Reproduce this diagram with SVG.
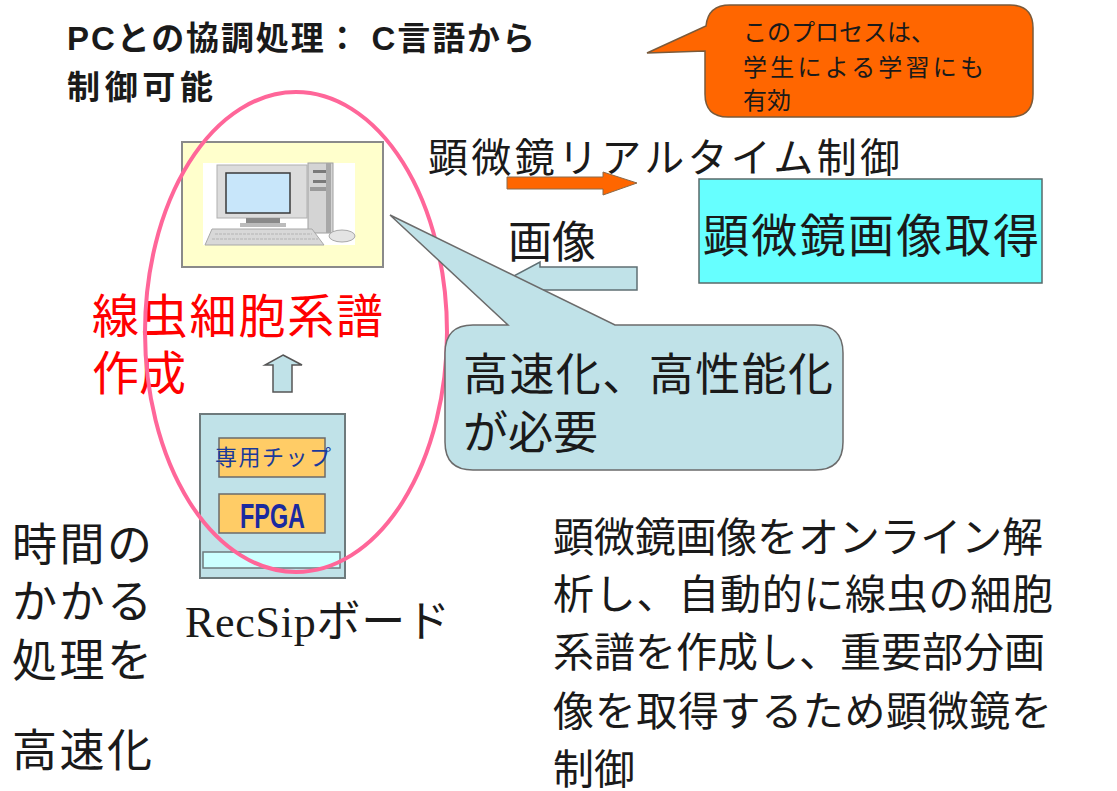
<svg xmlns="http://www.w3.org/2000/svg" width="1117" height="791" viewBox="0 0 1117 791">
  <style>
    .jp { font-family: "Noto Sans CJK JP", "Noto Sans", sans-serif; fill: #1a1a1a; }
    .title { font-family: "Liberation Sans", "Noto Sans CJK JP", sans-serif; font-weight: bold; fill: #1a1a1a; font-size: 33px; }
    .red { fill: #ff0000; }
    .bluefill { fill: #c0e2e8; }
    .orangefill { fill: #ff6600; }
    .chip { fill: #ffcc66; stroke: #6b6b6b; stroke-width: 1.5; }
  </style>

  <rect width="1117" height="791" fill="#ffffff"/>

  <!-- heading -->
  <g id="heading">
    <text class="title">
      <tspan x="67" y="50" textLength="468">PCとの協調処理： C言語から</tspan>
      <tspan x="67" y="99" textLength="146">制御可能</tspan>
    </text>
  </g>

  <!-- orange note bubble -->
  <g id="note">
    <path class="orangefill" stroke="#7a5a3a" stroke-width="1.5" d="M647,53 L706,26 Q708,5 730,5 L1010,5 Q1033,5 1033,28 L1033,94 Q1033,117 1010,117 L728,117 Q705,117 705,94 L705,51 Z"/>
    <text class="jp" font-size="24" fill="#2a1a0a">
      <tspan x="743" y="41">このプロセスは、</tspan>
      <tspan x="743" y="76" textLength="241">学生による学習にも</tspan>
      <tspan x="743" y="109">有効</tspan>
    </text>
  </g>

  <!-- connectors -->
  <g id="connectors">
    <!-- realtime control arrow (to microscope) -->
    <path class="orangefill" stroke="#8a6a4a" stroke-width="1" d="M507,177 L603,177 L603,172 L637,183 L603,195 L603,189 L507,189 Z"/>
    <!-- image return arrow (from microscope) -->
    <path class="bluefill" stroke="#5f6f73" stroke-width="1.5" d="M637,267 L540,267 L540,262 L508,279 L540,296 L540,290 L637,290 Z"/>
    <!-- board to PC arrow -->
    <path class="bluefill" stroke="#555" stroke-width="1.5" d="M283,355 L302,365 L292,365 L292,392 L273,392 L273,365 L265,365 Z"/>
  </g>

  <!-- labels on the connectors -->
  <g id="label-realtime">
    <text class="jp" font-size="40" x="428" y="172" textLength="472">顕微鏡リアルタイム制御</text>
  </g>
  <g id="label-image">
    <text class="jp" font-size="44" x="508" y="258">画像</text>
  </g>

  <!-- microscope image acquisition -->
  <g id="microscope">
    <rect x="699" y="179" width="343" height="104" fill="#66ffff" stroke="#5a6a6a" stroke-width="1.5"/>
    <text class="jp" font-size="46" x="703" y="252" textLength="336">顕微鏡画像取得</text>
  </g>

  <!-- PC -->
  <g id="pc">
    <rect x="182" y="142" width="201" height="125" fill="#ffffcc" stroke="#8a8a8a" stroke-width="2"/>
    <rect x="203" y="163" width="152" height="82" fill="#ffffff"/>
    <!-- monitor -->
    <rect x="217" y="165" width="90" height="53" fill="#dcdcdc" stroke="#b0b0b0" stroke-width="1"/>
    <rect x="226" y="173" width="64" height="40" fill="#c8e6fa" stroke="#3a3a3a" stroke-width="1.5"/>
    <rect x="246" y="218" width="34" height="6" fill="#8a8a8a"/>
    <rect x="240" y="223" width="46" height="4" fill="#bcbcbc"/>
    <!-- tower -->
    <rect x="308" y="163" width="25" height="70" fill="#d4d4d4" stroke="#a0a0a0" stroke-width="1"/>
    <rect x="313" y="170" width="14" height="3" fill="#7a7a7a"/>
    <rect x="313" y="180" width="14" height="3" fill="#7a7a7a"/>
    <rect x="310" y="187" width="20" height="4" fill="#9a9a9a"/>
    <rect x="326" y="163" width="5" height="70" fill="#a8a8a8"/>
    <!-- keyboard -->
    <path d="M212,229 L312,229 L324,245 L205,245 Z" fill="#d8d8d8" stroke="#a8a8a8" stroke-width="1"/>
    <path d="M215,234 L312,234 M212,239 L318,239" stroke="#b4b4b4" stroke-width="1" stroke-dasharray="3 1"/>
    <!-- mouse -->
    <ellipse cx="342" cy="236" rx="13" ry="6" fill="#e4e4e4" stroke="#a8a8a8" stroke-width="1"/>
  </g>

  <!-- lineage label -->
  <g id="lineage">
    <text class="jp red" font-size="47">
      <tspan x="92" y="333" textLength="291">線虫細胞系譜</tspan>
      <tspan x="92" y="390">作成</tspan>
    </text>
  </g>

  <!-- RecSip board -->
  <g id="board">
    <rect x="200" y="414" width="145" height="164" class="bluefill" stroke="#6e7a7c" stroke-width="2"/>
    <rect x="219" y="438" width="106" height="39" class="chip"/>
    <text x="215" y="465" font-family="'Liberation Serif', 'Noto Sans CJK JP', serif" font-size="22" fill="#1a3a9a" textLength="116">専用チップ</text>
    <rect x="219" y="494" width="106" height="39" class="chip"/>
    <text x="240" y="528" font-family="'Liberation Sans', sans-serif" font-weight="bold" font-size="35" fill="#1a2aa0" textLength="65" lengthAdjust="spacingAndGlyphs">FPGA</text>
    <rect x="203" y="552" width="137" height="16" fill="#ccffff" stroke="#6e7a7c" stroke-width="1.5"/>
    <text x="185" y="637" font-family="'Liberation Serif', 'Noto Sans CJK JP', serif" font-size="44" fill="#1a1a1a" textLength="265">RecSipボード</text>
  </g>

  <!-- grouping ellipse -->
  <g id="hw-loop">
    <ellipse cx="296" cy="332" rx="151" ry="240" fill="none" stroke="#ff6699" stroke-width="4"/>
  </g>

  <!-- speed-up callout -->
  <g id="callout">
    <path class="bluefill" stroke="#6b6b6b" stroke-width="1.5" d="M473,325 L508,325 L390,215 L615,325 L815,325 Q843,325 843,353 L843,442 Q843,470 815,470 L473,470 Q445,470 445,442 L445,353 Q445,325 473,325 Z"/>
    <text class="jp" font-size="45">
      <tspan x="463" y="391" textLength="370">高速化、高性能化</tspan>
      <tspan x="463" y="449">が必要</tspan>
    </text>
  </g>

  <!-- left note -->
  <g id="left-note">
    <text class="jp" font-size="45">
      <tspan x="12" y="561" textLength="140">時間の</tspan>
      <tspan x="12" y="618" textLength="140">かかる</tspan>
      <tspan x="12" y="677" textLength="140">処理を</tspan>
      <tspan x="12" y="767" textLength="140">高速化</tspan>
    </text>
  </g>

  <!-- description -->
  <g id="description">
    <text class="jp" font-size="41">
      <tspan x="553" y="552" textLength="490">顕微鏡画像をオンライン解</tspan>
      <tspan x="553" y="609" textLength="500">析し、自動的に線虫の細胞</tspan>
      <tspan x="553" y="667" textLength="492">系譜を作成し、重要部分画</tspan>
      <tspan x="553" y="726" textLength="499">像を取得するため顕微鏡を</tspan>
      <tspan x="553" y="784">制御</tspan>
    </text>
  </g>
</svg>
